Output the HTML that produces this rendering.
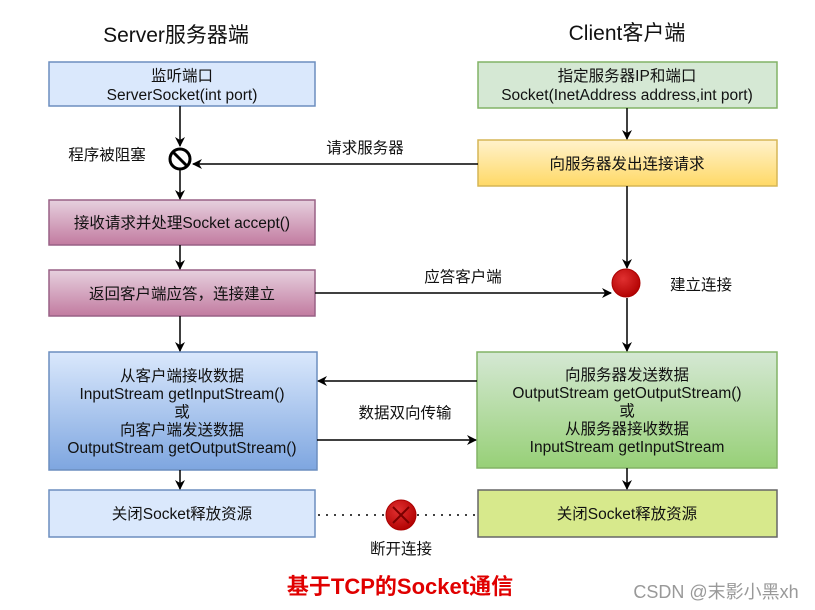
<!DOCTYPE html>
<html><head><meta charset="utf-8"><style>
body{margin:0;background:#fff;}
svg{display:block;font-family:"Liberation Sans","Noto Sans CJK SC",sans-serif;}
</style></head><body>
<svg width="815" height="610" viewBox="0 0 815 610" xmlns="http://www.w3.org/2000/svg">
<defs>
<linearGradient id="pk" x1="0" y1="0" x2="0" y2="1"><stop offset="0" stop-color="#e6d0de"/><stop offset="1" stop-color="#c27ba0"/></linearGradient>
<linearGradient id="bl" x1="0" y1="0" x2="0" y2="1"><stop offset="0" stop-color="#dae8fc"/><stop offset="1" stop-color="#7ea6e0"/></linearGradient>
<linearGradient id="gr" x1="0" y1="0" x2="0" y2="1"><stop offset="0" stop-color="#d5e8d4"/><stop offset="1" stop-color="#97d077"/></linearGradient>
<linearGradient id="yl" x1="0" y1="0" x2="0" y2="1"><stop offset="0" stop-color="#fff2cc"/><stop offset="1" stop-color="#ffd966"/></linearGradient>
<radialGradient id="rd" cx="0.4" cy="0.35" r="0.7"><stop offset="0" stop-color="#e03030"/><stop offset="1" stop-color="#b00000"/></radialGradient>
<marker id="ar" markerWidth="10" markerHeight="10" refX="9" refY="5" orient="auto" markerUnits="userSpaceOnUse"><path d="M0,0 L10,5 L0,10 L3,5 z" fill="#000"/></marker>
</defs>
<g font-size="21" fill="#111" text-anchor="middle">
<text x="176" y="42">Server服务器端</text>
<text x="627" y="40">Client客户端</text>
</g>
<g stroke-width="1.5">
<rect x="49" y="62" width="266" height="44" fill="#dae8fc" stroke="#6c8ebf"/>
<rect x="49" y="200" width="266" height="45" fill="url(#pk)" stroke="#996185"/>
<rect x="49" y="270" width="266" height="46" fill="url(#pk)" stroke="#996185"/>
<rect x="49" y="352" width="268" height="118" fill="url(#bl)" stroke="#6c8ebf"/>
<rect x="49" y="490" width="266" height="47" fill="#dae8fc" stroke="#6c8ebf"/>
<rect x="478" y="62" width="299" height="46" fill="#d5e8d4" stroke="#82b366"/>
<rect x="478" y="140" width="299" height="46" fill="url(#yl)" stroke="#d6b656"/>
<rect x="477" y="352" width="300" height="116" fill="url(#gr)" stroke="#82b366"/>
<rect x="478" y="490" width="299" height="47" fill="#d7e98c" stroke="#666"/>
</g>
<g stroke="#000" stroke-width="1.5" fill="none">
<line x1="180" y1="106" x2="180" y2="146" marker-end="url(#ar)"/>
<line x1="180" y1="170" x2="180" y2="199" marker-end="url(#ar)"/>
<line x1="180" y1="245" x2="180" y2="269" marker-end="url(#ar)"/>
<line x1="180" y1="316" x2="180" y2="351" marker-end="url(#ar)"/>
<line x1="180" y1="470" x2="180" y2="489" marker-end="url(#ar)"/>
<line x1="627" y1="108" x2="627" y2="139" marker-end="url(#ar)"/>
<line x1="627" y1="186" x2="627" y2="268" marker-end="url(#ar)"/>
<line x1="627" y1="298" x2="627" y2="351" marker-end="url(#ar)"/>
<line x1="627" y1="468" x2="627" y2="489" marker-end="url(#ar)"/>
<line x1="478" y1="164" x2="193" y2="164" marker-end="url(#ar)"/>
<line x1="315" y1="293" x2="611" y2="293" marker-end="url(#ar)"/>
<line x1="477" y1="381" x2="318" y2="381" marker-end="url(#ar)"/>
<line x1="317" y1="440" x2="476" y2="440" marker-end="url(#ar)"/>
<line x1="318" y1="515" x2="385" y2="515" stroke-dasharray="2 6"/>
<line x1="417" y1="515" x2="478" y2="515" stroke-dasharray="2 6"/>
</g>
<circle cx="180" cy="159" r="10" fill="#fff" stroke="#000" stroke-width="3"/>
<line x1="173" y1="152" x2="187" y2="166" stroke="#000" stroke-width="3"/>
<circle cx="626" cy="283" r="14" fill="url(#rd)" stroke="#a00" stroke-width="1"/>
<circle cx="401" cy="515" r="15" fill="url(#rd)" stroke="#a00" stroke-width="1"/>
<g stroke="#7a0000" stroke-width="2"><line x1="393" y1="507" x2="409" y2="523"/><line x1="409" y1="507" x2="393" y2="523"/></g>
<g font-size="15.5" fill="#111" text-anchor="middle">
<text x="182" y="81">监听端口</text>
<text x="182" y="100">ServerSocket(int port)</text>
<text x="182" y="228">接收请求并处理Socket accept()</text>
<text x="182" y="299">返回客户端应答，连接建立</text>
<text x="182" y="381">从客户端接收数据</text>
<text x="182" y="399">InputStream getInputStream()</text>
<text x="182" y="417">或</text>
<text x="182" y="435">向客户端发送数据</text>
<text x="182" y="453">OutputStream getOutputStream()</text>
<text x="182" y="519">关闭Socket释放资源</text>
<text x="627" y="81">指定服务器IP和端口</text>
<text x="627" y="100">Socket(InetAddress address,int port)</text>
<text x="627" y="169">向服务器发出连接请求</text>
<text x="627" y="380">向服务器发送数据</text>
<text x="627" y="398">OutputStream getOutputStream()</text>
<text x="627" y="416">或</text>
<text x="627" y="434">从服务器接收数据</text>
<text x="627" y="452">InputStream getInputStream</text>
<text x="627" y="519">关闭Socket释放资源</text>
<text x="107" y="160">程序被阻塞</text>
<text x="365" y="153">请求服务器</text>
<text x="463" y="282">应答客户端</text>
<text x="701" y="290">建立连接</text>
<text x="405" y="418">数据双向传输</text>
<text x="401" y="554">断开连接</text>
</g>
<text x="400" y="594" font-size="22" font-weight="bold" fill="#e00000" text-anchor="middle">基于TCP的Socket通信</text>
<text x="716" y="598" font-size="18" fill="#999" text-anchor="middle">CSDN @末影小黑xh</text>
</svg>
</body></html>
